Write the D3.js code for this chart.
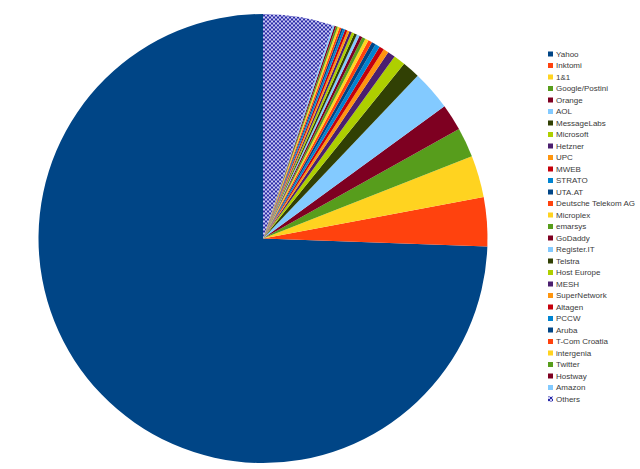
<!DOCTYPE html>
<html>
<head>
<meta charset="utf-8">
<script src="https://cdn.jsdelivr.net/npm/d3@7"></script>
<style>
  body { margin: 0; background: #fff; }
  svg { display: block; }
</style>
</head>
<body>
<div id="chart"></div>
<script>
const categories = [
  'Yahoo', 'Inktomi', '1&1', 'Google/Postini', 'Orange', 'AOL', 'MessageLabs',
  'Microsoft', 'Hetzner', 'UPC', 'MWEB', 'STRATO', 'UTA.AT', 'Deutsche Telekom AG',
  'Microplex', 'emarsys', 'GoDaddy', 'Register.IT', 'Telstra', 'Host Europe', 'MESH',
  'SuperNetwork', 'Altagen', 'PCCW', 'Aruba', 'T-Com Croatia', 'intergenia', 'Twitter',
  'Hostway', 'Amazon', 'Others',
];

// share in percent
const shares = [
  74.6, 3.53, 3.03, 2.14, 1.92, 2.89, 1.28,
  0.85, 0.55, 0.38, 0.35, 0.33, 0.30, 0.28,
  0.25, 0.24, 0.22, 0.21, 0.20, 0.19, 0.18,
  0.17, 0.16, 0.15, 0.14, 0.14, 0.13, 0.13,
  0.12, 0.12, 5.05,
];

const palette = [
  '#004586', '#ff420e', '#ffd320', '#579d1c', '#7e0021', '#83caff',
  '#314004', '#aecf00', '#4b1f6f', '#ff950e', '#c5000b', '#0084d1',
];

const width = 640;
const height = 469;
const center = [263, 238.5];
const radius = 224.5;

const svg = d3.select('#chart')
  .append('svg')
  .attr('width', width)
  .attr('height', height);

// checkered fill used for "Others"
const pattern = svg.append('defs')
  .append('pattern')
  .attr('id', 'others')
  .attr('patternUnits', 'userSpaceOnUse')
  .attr('width', 4)
  .attr('height', 4);
pattern.append('rect').attr('width', 4).attr('height', 4).attr('fill', '#c8c8f4');
pattern.append('rect').attr('width', 2).attr('height', 2).attr('fill', '#2b2ba6');
pattern.append('rect').attr('x', 2).attr('y', 2).attr('width', 2).attr('height', 2).attr('fill', '#2b2ba6');

const data = categories.map((name, i) => ({ name, value: shares[i], i }));
const colorOf = d => (d.name === 'Others' ? 'url(#others)' : palette[d.i % palette.length]);

// slices run counter-clockwise from 12 o'clock
const pie = d3.pie()
  .value(d => d.value)
  .sort(null)
  .startAngle(0)
  .endAngle(-2 * Math.PI);

const arc = d3.arc()
  .innerRadius(0)
  .outerRadius(radius);

svg.append('g')
  .attr('transform', `translate(${center[0]},${center[1]})`)
  .selectAll('path')
  .data(pie(data))
  .enter()
  .append('path')
  .attr('d', arc)
  .attr('fill', d => colorOf(d.data));

const legend = svg.append('g')
  .attr('transform', 'translate(548,54)');

const y = d3.scalePoint()
  .domain(categories)
  .range([0, 345]);

const item = legend.selectAll('g')
  .data(data)
  .enter()
  .append('g')
  .attr('transform', d => `translate(0,${y(d.name)})`);

item.append('rect')
  .attr('x', 0)
  .attr('y', -2.5)
  .attr('width', 5)
  .attr('height', 5)
  .attr('fill', d => colorOf(d));

item.append('text')
  .attr('x', 8)
  .attr('y', 0)
  .attr('dy', '0.35em')
  .attr('font-family', 'Liberation Sans, Arial, sans-serif')
  .attr('font-size', 8)
  .attr('fill', '#3a3a3a')
  .text(d => d.name);
</script>
</body>
</html>
